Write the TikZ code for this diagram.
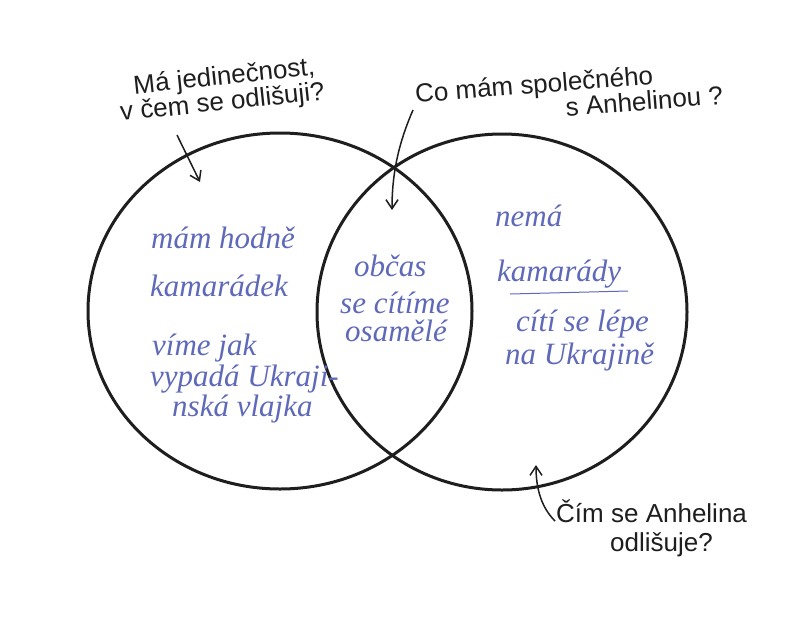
\documentclass[tikz,border=0pt]{standalone}
\usepackage{fontspec}
\setmainfont{Liberation Sans}
\newfontfamily\penfont{Liberation Serif}
\usetikzlibrary{arrows.meta,shapes.geometric}
\definecolor{ink}{RGB}{30,30,30}
\definecolor{pen}{RGB}{95,105,185}
\begin{document}
\begin{tikzpicture}[x=1pt,y=-1pt,
  ring/.style={ellipse,draw=ink,line width=3pt,inner sep=0pt,outer sep=0pt},
  note/.style={text=ink,inner sep=0pt,anchor=base west,align=left},
  pennote/.style={text=pen,font=\penfont\itshape\fontsize{31}{36}\selectfont,inner sep=0pt,anchor=base west},
  pointer/.style={draw=ink,line width=1.5pt,-{Straight Barb[length=9pt,width=12pt]}}]
\useasboundingbox (0,0) rectangle (787,641);
\fill[white] (0,0) rectangle (787,641);
% circles
\node[ring,minimum width=384pt,minimum height=356pt] (L) at (280,311) {};
\node[ring,minimum width=370pt,minimum height=356pt] (R) at (502,312) {};
% black questions
\node[note,rotate=6,font=\fontsize{26}{23.5}\selectfont] (q1) at (121,121)
  {\hspace*{16pt}Má jedinečnost,\\v čem se odlišuji?};
\node[note,rotate=4.5,font=\fontsize{26}{22.5}\selectfont] (q2) at (417.7,128)
  {Co mám společného\\\hspace*{149pt}s Anhelinou ?};
\node[note,font=\fontsize{26}{29}\selectfont] (q3) at (556,551)
  {Čím se Anhelina\\\hspace*{54pt}odlišuje?};
% blue texts left
\node[pennote] (l1) at (151,248) {mám hodně};
\node[pennote] (l2) at (150,296) {kamarádek};
\node[pennote] (l3) at (152,355) {víme jak};
\node[pennote] (l4) at (150,386) {vypadá Ukraji-};
\node[pennote] (l5) at (172,416) {nská vlajka};
% middle
\node[pennote] (m1) at (354,276) {občas};
\node[pennote] (m2) at (340,313) {se cítíme};
\node[pennote] (m3) at (345,341) {osamělé};
% right
\node[pennote] (r1) at (495,226) {nemá};
\node[pennote] (r2) at (497,281) {kamarády};
\node[pennote] (r3) at (516,331) {cítí se lépe};
\node[pennote] (r4) at (505,364) {na Ukrajině};
\coordinate (u1) at (510,294);
\coordinate (u2) at (628,291);
\draw[pen,line width=1pt] (u1) -- (u2);
% arrows
\coordinate (a1s) at (177,135);
\coordinate (a1e) at (200,182);
\draw[pointer] (a1s) -- (a1e);
\coordinate (a2s) at (413,110);
\coordinate (a2e) at (392,210);
\draw[pointer] (a2s) .. controls (400,140) and (392,170) .. (a2e);
\coordinate (a3s) at (555,521);
\coordinate (a3e) at (536,465);
\draw[pointer] (a3s) .. controls (542,508) and (536,490) .. (a3e);
\end{tikzpicture}
\end{document}
